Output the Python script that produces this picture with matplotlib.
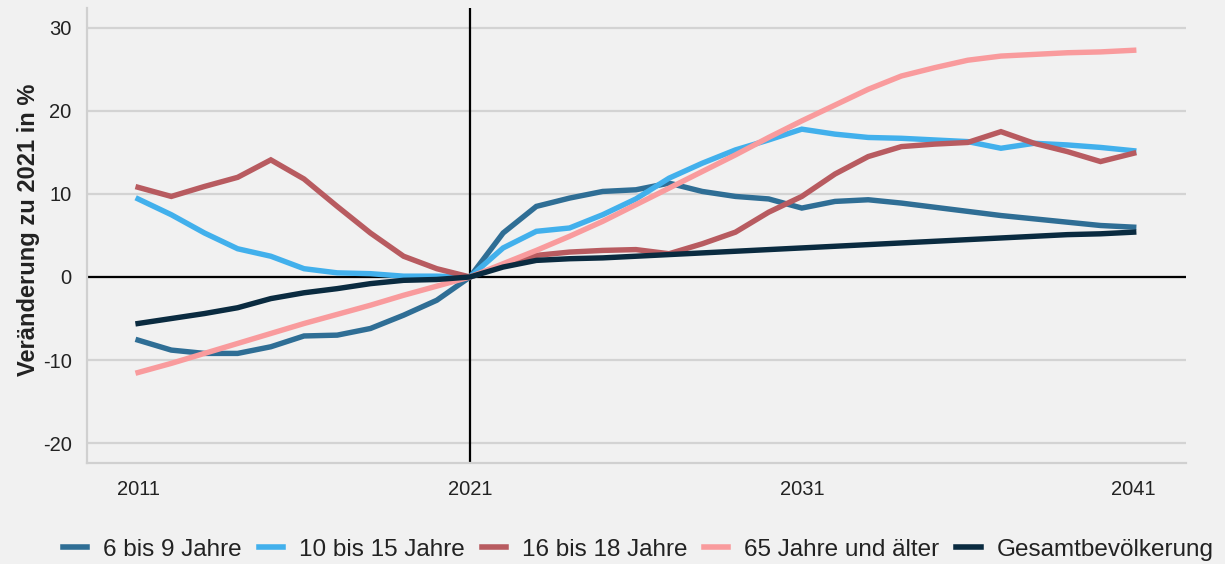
import matplotlib
matplotlib.use("Agg")
import matplotlib.pyplot as plt

plt.rcParams['font.family'] = ['Liberation Sans', 'DejaVu Sans']
plt.rcParams['axes.unicode_minus'] = False

years = list(range(2011, 2042))

# Veränderung zu 2021 in %
age_6_9 = [-7.6, -8.8, -9.2, -9.2, -8.4, -7.1, -7.0, -6.2, -4.6, -2.8, 0.0,
           5.3, 8.5, 9.5, 10.3, 10.5, 11.3, 10.3, 9.7, 9.4, 8.3,
           9.1, 9.3, 8.9, 8.4, 7.9, 7.4, 7.0, 6.6, 6.2, 6.0]
age_10_15 = [9.4, 7.5, 5.3, 3.4, 2.5, 1.0, 0.5, 0.4, 0.1, 0.1, 0.0,
             3.5, 5.5, 5.9, 7.5, 9.4, 11.9, 13.7, 15.3, 16.5, 17.8,
             17.2, 16.8, 16.7, 16.5, 16.3, 15.5, 16.1, 15.9, 15.6, 15.2]
age_16_18 = [10.8, 9.7, 10.9, 12.0, 14.1, 11.8, 8.5, 5.3, 2.5, 1.0, 0.0,
             1.4, 2.6, 3.0, 3.2, 3.3, 2.8, 4.0, 5.4, 7.8, 9.7,
             12.4, 14.5, 15.7, 16.0, 16.2, 17.5, 16.1, 15.1, 13.9, 14.9]
age_65 = [-11.5, -10.4, -9.2, -8.0, -6.8, -5.6, -4.5, -3.4, -2.2, -1.1, 0.0,
          1.6, 3.2, 4.9, 6.7, 8.7, 10.7, 12.7, 14.7, 16.8, 18.8,
          20.7, 22.6, 24.2, 25.2, 26.1, 26.6, 26.8, 27.0, 27.1, 27.3]
total = [-5.6, -5.0, -4.4, -3.7, -2.6, -1.9, -1.4, -0.8, -0.4, -0.3, 0.0,
         1.2, 2.0, 2.2, 2.3, 2.5, 2.7, 2.9, 3.1, 3.3, 3.5,
         3.7, 3.9, 4.1, 4.3, 4.5, 4.7, 4.9, 5.1, 5.2, 5.4]

series = [
    ("6 bis 9 Jahre", age_6_9, "#2f6e95"),
    ("10 bis 15 Jahre", age_10_15, "#42b0ec"),
    ("16 bis 18 Jahre", age_16_18, "#b85b60"),
    ("65 Jahre und älter", age_65, "#f99b9d"),
    ("Gesamtbevölkerung", total, "#0a2b40"),
]

xticks = [2011, 2021, 2031, 2041]
yticks = [-20, -10, 0, 10, 20, 30]

bg = "#f1f1f1"
fig = plt.figure(figsize=(12.25, 5.64), dpi=100, facecolor=bg)
ax = fig.add_axes([0.071, 0.179, 0.897, 0.807], facecolor=bg)

for y in yticks:
    ax.axhline(y, color="#d3d3d3", lw=1.6, zorder=1)
ax.axhline(0, color="black", lw=1.6, zorder=2)
ax.axvline(2021, color="black", lw=1.6, zorder=2)

for label, vals, col in series:
    ax.plot(years, vals, color=col, lw=3.9, label=label, zorder=3,
            solid_joinstyle="miter")

ax.set_xlim(2009.46, 2042.57)
ax.set_ylim(-22.4, 32.4)
ax.set_xticks(xticks)
ax.set_yticks(yticks)
ax.tick_params(length=0, labelsize=14.5, colors="#222222")
ax.tick_params(axis="x", pad=12)
ax.tick_params(axis="y", pad=11)

for s in ["top", "right"]:
    ax.spines[s].set_visible(False)
for s in ["left", "bottom"]:
    ax.spines[s].set_color("#d0d0d0")
    ax.spines[s].set_linewidth(1.6)

fig.text(0.023, 0.592, "Veränderung zu 2021 in %", rotation=90,
         ha="center", va="center", fontsize=17, fontweight="bold", color="#222222")

leg = fig.legend(loc="center", bbox_to_anchor=(0.521, 0.025), ncol=5,
                 frameon=False, fontsize=17.5, handlelength=1.0,
                 handletextpad=0.65, columnspacing=0.7)
for h in leg.get_lines():
    h.set_linewidth(4)
for t in leg.get_texts():
    t.set_color("#222222")

fig.savefig("out.png", dpi=100, facecolor=bg)
